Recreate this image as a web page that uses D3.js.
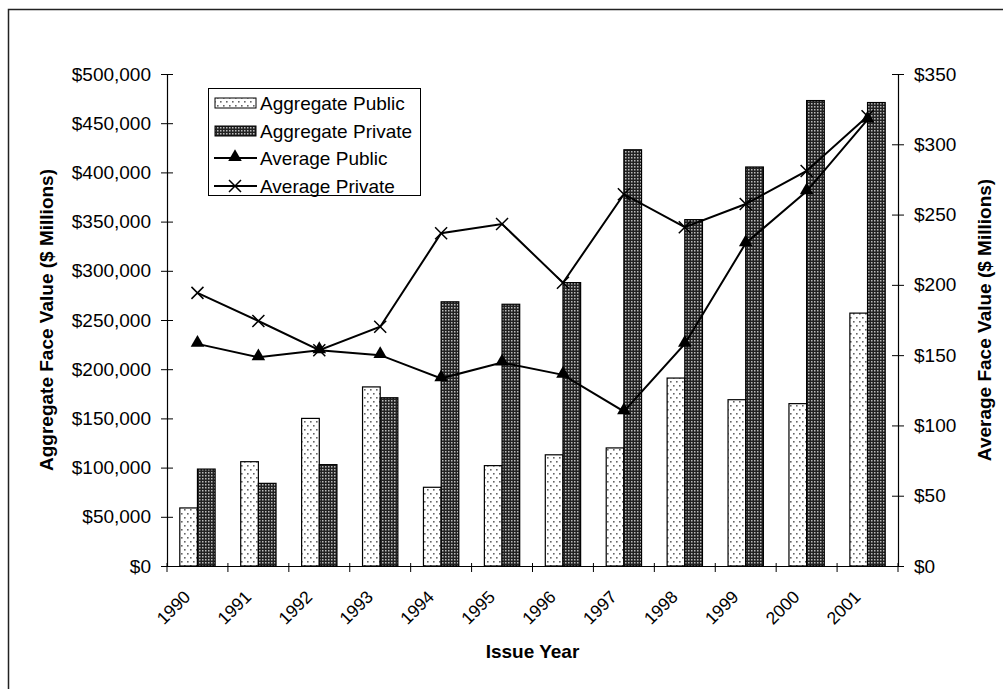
<!DOCTYPE html>
<html><head><meta charset="utf-8">
<script src="https://cdn.jsdelivr.net/npm/d3@7"></script>
<style>
body{margin:0;background:#fff;}
text{font-family:"Liberation Sans",Arial,sans-serif;}
</style></head>
<body><svg id="c" width="1003" height="689"></svg>
<script>
const years = ["1990","1991","1992","1993","1994","1995","1996","1997","1998","1999","2000","2001"];
const aggPublic = [59000,106000,150000,182000,80000,102000,113000,120000,191000,169000,165000,257000];
const aggPrivate = [98500,84000,103000,171000,268500,266000,288000,423000,352000,405500,473000,471000];
const avgPublic = [158,148.5,153.5,150,133.5,144.7,136,110,158,229.6,266.5,317.5];
const avgPrivate = [194.3,174.3,153.5,170.2,236.7,243.3,201.5,264.5,241,257.5,281,320];
const leftTicks = [0,50000,100000,150000,200000,250000,300000,350000,400000,450000,500000];
const rightTicks = [0,50,100,150,200,250,300,350];

const svg = d3.select("#c");
const L = 167, R = 898, T = 74, B = 566;
const FS = 19;

// outer frame
svg.append("rect").attr("x",8.5).attr("y",9.5).attr("width",1100).attr("height",800)
  .attr("fill","none").attr("stroke","#222").attr("stroke-width",1.5);

const defs = svg.append("defs");
const pPub = defs.append("pattern").attr("id","pub").attr("patternUnits","userSpaceOnUse")
  .attr("width",6).attr("height",8);
pPub.append("rect").attr("width",6).attr("height",8).attr("fill","#fff");
pPub.append("rect").attr("x",1).attr("y",1).attr("width",1.6).attr("height",1.6).attr("fill","#666");
pPub.append("rect").attr("x",4).attr("y",5).attr("width",1.6).attr("height",1.6).attr("fill","#666");
const pPri = defs.append("pattern").attr("id","pri").attr("patternUnits","userSpaceOnUse")
  .attr("width",3).attr("height",3);
pPri.append("rect").attr("width",3).attr("height",3).attr("fill","#222");
pPri.append("rect").attr("x",1).attr("y",1).attr("width",1.5).attr("height",1.5).attr("fill","#bbb");

const x = d3.scaleBand().domain(years).range([L,R]).paddingInner(0).paddingOuter(0);
const yL = d3.scaleLinear().domain([0,500000]).range([B,T]);
const yR = d3.scaleLinear().domain([0,350]).range([B,T]);
const bw = x.bandwidth()*0.29;

const g = svg.append("g");
// bars
g.selectAll(".bpub").data(years).join("rect")
  .attr("x",(d)=>x(d)+x.bandwidth()/2-bw).attr("y",(d,i)=>yL(aggPublic[i]))
  .attr("width",bw).attr("height",(d,i)=>B-yL(aggPublic[i]))
  .attr("fill","url(#pub)").attr("stroke","#000").attr("stroke-width",1.2);
g.selectAll(".bpri").data(years).join("rect")
  .attr("x",(d)=>x(d)+x.bandwidth()/2).attr("y",(d,i)=>yL(aggPrivate[i]))
  .attr("width",bw).attr("height",(d,i)=>B-yL(aggPrivate[i]))
  .attr("fill","url(#pri)").attr("stroke","#000").attr("stroke-width",1.2);

// axes
const fmtL = d3.format("$,");
const axL = d3.axisLeft(yL).tickValues(leftTicks).tickFormat(d=>fmtL(d)).tickSizeInner(6).tickSizeOuter(0).tickPadding(10);
const gl = svg.append("g").attr("transform",`translate(${L},0)`).call(axL);
const axR = d3.axisRight(yR).tickValues(rightTicks).tickFormat(d=>"$"+d).tickSizeInner(6).tickSizeOuter(0).tickPadding(10);
const gr = svg.append("g").attr("transform",`translate(${R},0)`).call(axR);
const axB = d3.axisBottom(x).tickSize(0).tickFormat(d=>d);
const gb = svg.append("g").attr("transform",`translate(0,${B})`).call(axB);
[gl,gr,gb].forEach(a=>{
  a.selectAll(".domain").attr("stroke","#000").attr("stroke-width",1.2);
  a.selectAll("text").attr("font-size",FS).attr("fill","#000").attr("font-family","Liberation Sans, Arial, sans-serif");
});
gl.selectAll(".tick line").attr("x2",-6).attr("x1",6).attr("stroke","#000");
gr.selectAll(".tick line").attr("x1",-6).attr("x2",6).attr("stroke","#000");
gb.selectAll(".tick text").attr("text-anchor","end").attr("y",0).attr("dy",0).attr("font-size",17.5)
  .attr("transform","translate(-6,32) rotate(-45)");
// category boundary ticks
svg.append("g").selectAll("line").data(years.concat(["end"])).join("line")
  .attr("x1",(d,i)=>L+i*x.step()).attr("x2",(d,i)=>L+i*x.step())
  .attr("y1",B-3).attr("y2",B+6).attr("stroke","#000").attr("stroke-width",1);

// lines
const cx = d=>x(d)+x.bandwidth()/2;
const line = d3.line();
svg.append("path").attr("d",line(years.map((d,i)=>[cx(d),yR(avgPublic[i])])))
  .attr("fill","none").attr("stroke","#000").attr("stroke-width",2);
svg.append("path").attr("d",line(years.map((d,i)=>[cx(d),yR(avgPrivate[i])])))
  .attr("fill","none").attr("stroke","#000").attr("stroke-width",2);
const tri = d3.symbol().type(d3.symbolTriangle).size(80);
svg.append("g").selectAll("path").data(years).join("path")
  .attr("d",tri).attr("transform",(d,i)=>`translate(${cx(d)},${yR(avgPublic[i])-1})`).attr("fill","#000");
svg.append("g").selectAll("path").data(years).join("path")
  .attr("d","M-6,-6L6,6M-6,6L6,-6").attr("transform",(d,i)=>`translate(${cx(d)},${yR(avgPrivate[i])})`)
  .attr("stroke","#000").attr("stroke-width",1.5).attr("fill","none");

// axis titles
svg.append("text").attr("transform",`translate(53,${(T+B)/2}) rotate(-90)`).attr("text-anchor","middle")
  .attr("font-size",FS).attr("font-weight","bold").text("Aggregate Face Value ($ Millions)");
svg.append("text").attr("transform",`translate(991,${(T+B)/2}) rotate(-90)`).attr("text-anchor","middle")
  .attr("font-size",FS).attr("font-weight","bold").text("Average Face Value ($ Millions)");
svg.append("text").attr("x",(L+R)/2).attr("y",658).attr("text-anchor","middle")
  .attr("font-size",FS).attr("font-weight","bold").text("Issue Year");

// legend
const lg = svg.append("g");
lg.append("rect").attr("x",208.5).attr("y",88.5).attr("width",212).attr("height",107)
  .attr("fill","#fff").attr("stroke","#000").attr("stroke-width",1);
const names = ["Aggregate Public","Aggregate Private","Average Public","Average Private"];
const ly = [103,131,158,186];
lg.append("rect").attr("x",215).attr("y",ly[0]-5).attr("width",41).attr("height",10).attr("fill","url(#pub)").attr("stroke","#000");
lg.append("rect").attr("x",215).attr("y",ly[1]-5).attr("width",41).attr("height",10).attr("fill","url(#pri)").attr("stroke","#000");
lg.append("line").attr("x1",214).attr("x2",257).attr("y1",ly[2]).attr("y2",ly[2]).attr("stroke","#000").attr("stroke-width",2);
lg.append("path").attr("d",tri).attr("transform",`translate(235,${ly[2]-1})`).attr("fill","#000");
lg.append("line").attr("x1",214).attr("x2",257).attr("y1",ly[3]).attr("y2",ly[3]).attr("stroke","#000").attr("stroke-width",2);
lg.append("path").attr("d","M-6,-6L6,6M-6,6L6,-6").attr("transform",`translate(235,${ly[3]})`).attr("stroke","#000").attr("stroke-width",1.5);
lg.selectAll("text").data(names).join("text").attr("x",260).attr("y",(d,i)=>ly[i]).attr("dy","0.35em")
  .attr("font-size",FS).text(d=>d);
</script></body></html>
